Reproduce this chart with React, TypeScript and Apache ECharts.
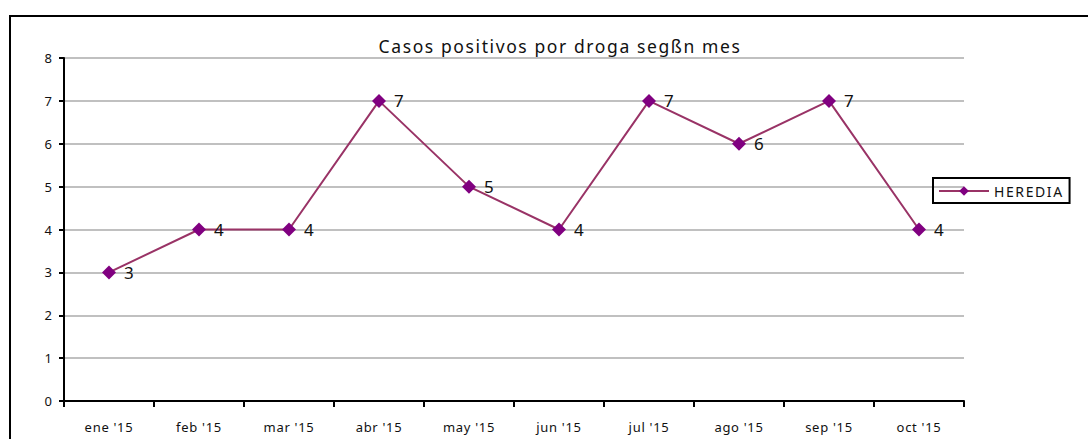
import React, { useEffect, useRef } from "react";
import * as echarts from "echarts";

const months = ["ene '15", "feb '15", "mar '15", "abr '15", "may '15", "jun '15", "jul '15", "ago '15", "sep '15", "oct '15"];
const heredia = [3, 4, 4, 7, 5, 4, 7, 6, 7, 4];
const chartTitle = "Casos positivos por droga segßn mes";
const seriesName = "HEREDIA";

const FONT = "Noto Sans";

// Spread out the letters of the title, legend and month labels in the rendered SVG.
function applySpacing(root: HTMLElement) {
  root.querySelectorAll("text").forEach((t) => {
    const s = t.textContent || "";
    if (s === chartTitle) t.setAttribute("letter-spacing", "1.6");
    else if (s === seriesName) t.setAttribute("letter-spacing", "1.6");
    else if (months.indexOf(s) >= 0) t.setAttribute("letter-spacing", "0.7");
  });
}

export default function App() {
  const ref = useRef<HTMLDivElement>(null);

  useEffect(() => {
    if (!ref.current) return;
    const el = ref.current;
    const chart = echarts.init(el, null, { renderer: "svg" });
    chart.on("finished", () => applySpacing(el));
    chart.setOption({
      animation: false,
      backgroundColor: "#ffffff",
      textStyle: { fontFamily: FONT },
      title: {
        text: chartTitle,
        left: 555,
        top: 32,
        textAlign: "center",
        textStyle: { fontFamily: FONT, fontSize: 17.5, fontWeight: "normal", color: "#111" },
      },
      graphic: [
        {
          type: "rect",
          shape: { x: 10, y: 16, width: 1200, height: 600 },
          style: { fill: "none", stroke: "#000", lineWidth: 2 },
          z: 100,
        },
      ],
      legend: {
        data: [seriesName],
        left: 933,
        top: 178,
        orient: "vertical",
        borderColor: "#000",
        borderWidth: 2,
        padding: [6, 17, 5, 5],
        itemWidth: 50,
        itemHeight: 12,
        itemGap: 4,
        textStyle: { fontFamily: FONT, fontSize: 14, color: "#111" },
      },
      grid: { left: 64, top: 58, width: 900, height: 343, containLabel: false },
      xAxis: {
        type: "category",
        data: months,
        boundaryGap: true,
        axisLine: { lineStyle: { color: "#000", width: 2 } },
        axisTick: { show: true, length: 6, lineStyle: { color: "#000", width: 2 }, alignWithLabel: false },
        axisLabel: { color: "#111", fontSize: 13, margin: 19, fontFamily: FONT },
        splitLine: { show: false },
      },
      yAxis: {
        type: "value",
        min: 0,
        max: 8,
        interval: 1,
        axisLine: { show: true, lineStyle: { color: "#000", width: 2 } },
        axisTick: { show: true, length: 5, lineStyle: { color: "#000", width: 2 } },
        axisLabel: { color: "#111", fontSize: 13, margin: 12, fontFamily: FONT },
        splitLine: { show: true, lineStyle: { color: "#c0c0c0", width: 2 } },
      },
      series: [
        {
          name: seriesName,
          type: "line",
          data: heredia,
          symbol: "diamond",
          symbolSize: 14,
          color: "#800080",
          itemStyle: { color: "#800080" },
          lineStyle: { color: "#993366", width: 2 },
          label: {
            show: true,
            position: "right",
            distance: 8,
            color: "#111",
            fontSize: 17,
            fontFamily: FONT,
          },
        },
      ],
    });
    applySpacing(el);
    return () => chart.dispose();
  }, []);

  return (
    <div
      ref={ref}
      style={{ position: "fixed", left: 0, top: 0, width: 1088, height: 439 }}
    />
  );
}
